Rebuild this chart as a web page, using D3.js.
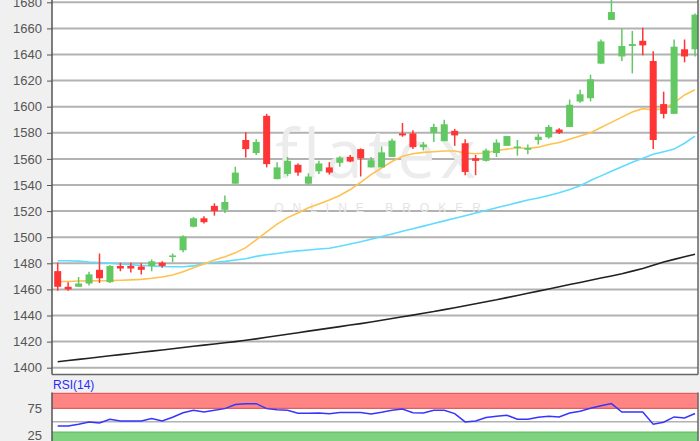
<!DOCTYPE html>
<html><head><meta charset="utf-8">
<script src="https://cdn.jsdelivr.net/npm/d3@7"></script>
<style>html,body{margin:0;padding:0;background:#f0f0f0;overflow:hidden}svg{display:block}</style>
</head><body><svg id="c" width="700" height="441"></svg>
<script>
const openP  = [1474,1462,1462,1464.5,1475,1465.5,1478,1478,1477.5,1478,1480.5,1485,1490,1508,1514.5,1524,1521,1541,1574.5,1564.5,1593,1544.5,1548.5,1555.5,1541,1550.5,1553.5,1557,1561.5,1567.5,1553.5,1553.5,1561.5,1579.5,1579.5,1569,1580,1573.5,1581.5,1572,1560.5,1558.5,1564.5,1570,1568.5,1567,1574.5,1576.5,1582.5,1584.5,1604,1606.5,1633,1666.5,1638.5,1646.5,1650.5,1635,1602,1594.5,1644,1644];
const highP  = [1480.5,1465.5,1469.5,1473.5,1487.5,1478.5,1480.5,1480.5,1480,1483,1481.5,1487.5,1501.5,1515.5,1516,1526,1532,1554,1580.5,1575,1594.5,1557.5,1561.5,1556.5,1549,1558.5,1557.5,1562,1563,1568,1561.5,1569.5,1575.5,1587.5,1582,1573,1587,1590,1583,1575,1563,1568,1575,1577.5,1574.5,1571,1579,1586,1583.5,1605.5,1613,1624.5,1651.5,1686,1660,1658,1660.5,1642.5,1611.5,1651.5,1651.5,1671.5];
const lowP   = [1459,1459,1462,1463,1465,1465,1474,1473,1471.5,1474,1476.5,1481,1488.5,1507.5,1510.5,1516.5,1518.5,1541,1561,1563,1553.5,1544.5,1547,1547,1540,1548.5,1548,1554,1557.5,1546.5,1553.5,1553.5,1561.5,1577,1567.5,1566.5,1573,1573.5,1570,1547.5,1547.5,1558,1561.5,1570,1562.5,1563.5,1571,1575.5,1579,1584.5,1603,1604,1633,1666.5,1635,1625.5,1639.5,1567.5,1591,1594.5,1634,1638.5];
const closeP = [1462,1460,1464.5,1471.5,1468.5,1478,1476,1476,1475,1481.5,1478,1486,1500.5,1514.5,1511.5,1520,1527,1549.5,1567.5,1573,1556,1553.5,1558.5,1549.5,1546.5,1556.5,1549.5,1561,1558,1560.5,1559,1565,1574,1578,1569,1571,1584.5,1586.5,1578,1550,1558.5,1566.5,1572.5,1577.5,1569.5,1568.5,1577,1584.5,1580,1601.5,1609.5,1621,1650,1672.5,1646.5,1648,1647,1574.5,1594.5,1646,1638.5,1670.5];
const maShort = [1466,1466,1466.4,1466.5,1466.6,1466.7,1467,1467.3,1467.7,1468.5,1469.5,1471,1473.5,1476.5,1479.5,1482.5,1485,1488,1492,1498,1504,1510,1515,1518.5,1522.5,1525.5,1528.5,1532,1536.5,1542,1548,1553,1558,1562,1564,1565,1565.5,1566,1566,1564.5,1564,1564.5,1566.5,1567.5,1568.5,1568,1569,1571,1572.5,1575,1577.5,1580,1584,1588,1592,1596,1598.5,1597.5,1598.5,1603,1609,1613];
const maMid = [1482,1482,1481.7,1481,1480.5,1480,1479.5,1479,1478.3,1478,1477.6,1477.4,1477.4,1478,1479.8,1480.8,1481.5,1482.5,1483.5,1485.3,1486.5,1487.5,1488.7,1489.5,1490.2,1491,1491.5,1493,1494.8,1496.5,1498.5,1500.5,1502.5,1504.5,1506.5,1508.5,1510.5,1512.5,1514.5,1516.5,1518.5,1520.5,1522.5,1524.5,1526.5,1528.5,1530,1532,1534,1536.5,1539.5,1543.5,1547,1550.5,1554,1557.5,1560.5,1563.5,1565.5,1567.5,1572,1577.5];
const maLong = [1404.6,1405.5,1406.4,1407.3,1408.2,1409.1,1410,1410.9,1411.8,1412.7,1413.6,1414.5,1415.5,1416.4,1417.3,1418.2,1419.1,1420,1421,1422.1,1423.3,1424.5,1425.6,1426.8,1428,1429.2,1430.3,1431.5,1432.7,1433.8,1435,1436.3,1437.7,1439,1440.3,1441.7,1443,1444.5,1446,1447.5,1449,1450.5,1452,1453.7,1455.3,1457,1458.7,1460.3,1462,1463.7,1465.3,1467,1468.7,1470.3,1472,1474,1476,1478.5,1481,1483,1485,1487];
const rsi14 = [42.2,42.2,45.4,49.6,47.8,54.6,51.5,51.5,51.5,55.9,51.5,58.3,66.7,71.3,68.1,71.3,74.4,81.9,83.3,83.7,74.4,72.2,71.3,65.7,65.7,66.3,64.8,67,67,67,64.4,67.6,71.3,73.7,66.7,66.3,71.3,71.3,65.2,49.6,51.5,57.8,60.2,62,54.6,54.6,58.3,60.2,58.9,66.3,69.4,75,79.6,83.7,68.1,68.1,68.1,45.4,49,58.9,57,65.2];
const priceTicks = [1400,1420,1440,1460,1480,1500,1520,1540,1560,1580,1600,1620,1640,1660,1680];
const rsiTicks = [25,75];
const rsiLabel = "RSI(14)";
const watermark = "flatex";
const watermarkSub = "ONLINE BROKER";

const L = 52, R = 698, PB = 374.5, RT = 392.5;
const svg = d3.select("#c");
const n = openP.length;
const x = d3.scaleLinear().domain([0, n - 1]).range([57.7, 695]);
const y = d3.scaleLinear().domain([1400, 1680]).range([367.7, 2.3]);
const yr = d3.scaleLinear().domain([25, 75]).range([435.1, 408.3]);

const defs = svg.append("defs");
defs.append("clipPath").attr("id", "pc").append("rect").attr("x", L).attr("y", -10).attr("width", R - L).attr("height", PB + 10);
defs.append("clipPath").attr("id", "rc").append("rect").attr("x", L).attr("y", RT).attr("width", R - L).attr("height", 60);

// price panel
svg.append("rect").attr("x", L).attr("y", -10).attr("width", R - L).attr("height", PB + 10).attr("fill", "#fff");
const gp = svg.append("g").attr("clip-path", "url(#pc)");
gp.selectAll("line.grid").data(priceTicks).join("line").attr("class", "grid")
  .attr("x1", L).attr("x2", R).attr("y1", d => y(d)).attr("y2", d => y(d))
  .attr("stroke", "#b2b2b2").attr("stroke-width", 2);

// watermark
gp.append("text").attr("x", 378).attr("y", 178).attr("text-anchor", "middle")
  .attr("font-family", "'Open Sans', 'Liberation Sans', sans-serif").attr("font-size", 68).attr("font-weight", 400)
  .attr("letter-spacing", 5).attr("fill", "#ececec").text(watermark);
gp.append("text").attr("x", 382).attr("y", 212).attr("text-anchor", "middle")
  .attr("font-family", "'Liberation Sans', sans-serif").attr("font-size", 12).attr("letter-spacing", 9)
  .attr("fill", "#e4e4e4").text(watermarkSub);

const line = arr => d3.line().x((d, i) => x(i)).y(d => y(d))(arr);
gp.append("path").attr("d", line(maLong)).attr("fill", "none").attr("stroke", "#222").attr("stroke-width", 1.6);
gp.append("path").attr("d", line(maMid)).attr("fill", "none").attr("stroke", "#5fdcff").attr("stroke-width", 1.6);
gp.append("path").attr("d", line(maShort)).attr("fill", "none").attr("stroke", "#ffc24f").attr("stroke-width", 1.6);

const idx = d3.range(n);
const col = i => closeP[i] >= openP[i] ? "#62c862" : "#ff3434";
gp.selectAll("line.wick").data(idx).join("line").attr("class", "wick")
  .attr("x1", i => x(i)).attr("x2", i => x(i)).attr("y1", i => y(highP[i])).attr("y2", i => y(lowP[i]))
  .attr("stroke", col).attr("stroke-width", 1.5);
const bw = 7;
gp.selectAll("rect.body").data(idx).join("rect").attr("class", "body")
  .attr("x", i => x(i) - bw / 2).attr("width", bw)
  .attr("y", i => y(Math.max(openP[i], closeP[i])))
  .attr("height", i => Math.max(1.5, Math.abs(y(openP[i]) - y(closeP[i]))))
  .attr("fill", col);

// price axis
svg.append("line").attr("x1", L).attr("x2", L).attr("y1", 0).attr("y2", PB).attr("stroke", "#555").attr("stroke-width", 1.5);
svg.append("line").attr("x1", L).attr("x2", R).attr("y1", PB).attr("y2", PB).attr("stroke", "#666").attr("stroke-width", 1.5);
svg.append("line").attr("x1", R).attr("x2", R).attr("y1", 0).attr("y2", PB).attr("stroke", "#666").attr("stroke-width", 1.5);
const ax = svg.append("g").attr("transform", `translate(${L},0)`)
  .call(d3.axisLeft(y).tickValues(priceTicks).tickSize(5).tickPadding(5).tickFormat(d3.format("d")));
ax.select(".domain").remove();
ax.selectAll("line").attr("stroke", "#555");
ax.selectAll("text").attr("font-family", "'Liberation Sans', Arial, sans-serif").attr("font-size", 13).attr("fill", "#555");

// RSI panel
svg.append("text").attr("x", 53).attr("y", 389).attr("font-family", "'Liberation Sans', Arial, sans-serif")
  .attr("font-size", 12).attr("fill", "#2a2aff").text(rsiLabel);
svg.append("rect").attr("x", L).attr("y", RT).attr("width", R - L).attr("height", 60).attr("fill", "#fff");
const gr = svg.append("g").attr("clip-path", "url(#rc)");
gr.append("rect").attr("x", L).attr("y", RT).attr("width", R - L).attr("height", yr(75) - RT).attr("fill", "#ff8585");
gr.append("rect").attr("x", L).attr("y", yr(30.5)).attr("width", R - L).attr("height", 30).attr("fill", "#7fd27f");
gr.append("line").attr("x1", L).attr("x2", R).attr("y1", yr(75)).attr("y2", yr(75)).attr("stroke", "#e06060").attr("stroke-width", 1.2);
gr.append("line").attr("x1", L).attr("x2", R).attr("y1", RT + 0.8).attr("y2", RT + 0.8).attr("stroke", "#e06060").attr("stroke-width", 1.2);
gr.append("line").attr("x1", L).attr("x2", R).attr("y1", yr(30.5)).attr("y2", yr(30.5)).attr("stroke", "#5fbf5f").attr("stroke-width", 1.2);
gr.append("line").attr("x1", L).attr("x2", R).attr("y1", yr(50)).attr("y2", yr(50)).attr("stroke", "#b2b2b2").attr("stroke-width", 1.5);
gr.append("path").attr("d", d3.line().x((d, i) => x(i)).y(d => yr(d))(rsi14))
  .attr("fill", "none").attr("stroke", "#3535ff").attr("stroke-width", 1.5);
svg.append("line").attr("x1", L).attr("x2", L).attr("y1", RT).attr("y2", 441).attr("stroke", "#555").attr("stroke-width", 1.5);
svg.append("line").attr("x1", R).attr("x2", R).attr("y1", RT).attr("y2", 441).attr("stroke", "#666").attr("stroke-width", 1.5);
const ar = svg.append("g").attr("transform", `translate(${L},0)`)
  .call(d3.axisLeft(yr).tickValues(rsiTicks).tickSize(0).tickPadding(10));
ar.select(".domain").remove();
ar.selectAll("text").attr("font-family", "'Liberation Sans', Arial, sans-serif").attr("font-size", 13).attr("fill", "#555");
</script></body></html>
